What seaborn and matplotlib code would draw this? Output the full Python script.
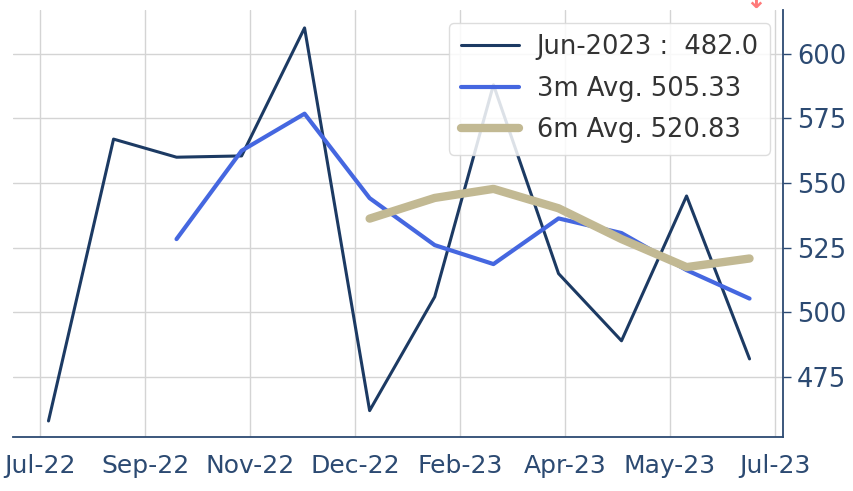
import numpy as np
import pandas as pd
import seaborn as sns
import matplotlib.pyplot as plt
import matplotlib.dates as mdates
from matplotlib.ticker import MultipleLocator

# monthly values (month-end dates)
months = pd.date_range('2022-07-31', periods=12, freq='ME')
values = [458, 567, 560, 560.5, 610, 462, 506, 588, 515, 489, 545, 482]
avg_3m = [np.nan, np.nan, 528.33, 562.5, 576.83, 544.17, 526.0, 518.67, 536.33, 530.67, 516.33, 505.33]
avg_6m = [np.nan] * 5 + [536.25, 544.25, 547.75, 540.25, 528.33, 517.5, 520.83]

labels = ['Jun-2023 :  482.0', '3m Avg. 505.33', '6m Avg. 520.83']

df = pd.DataFrame({'date': months, 'value': values, 'avg3': avg_3m, 'avg6': avg_6m})

navy = '#1c3a63'
tick_col = '#2c4a72'

sns.set_style('whitegrid')
plt.rcParams['font.family'] = ['DejaVu Sans']

fig = plt.figure(figsize=(8.54, 4.91), dpi=100)
ax = fig.add_axes([0.015, 0.110, 0.902, 0.870])

sns.lineplot(data=df, x='date', y='value', color=navy, linewidth=2.2, label=labels[0], ax=ax)
sns.lineplot(data=df, x='date', y='avg3', color='#4567e0', linewidth=3.0, label=labels[1], ax=ax)
sns.lineplot(data=df, x='date', y='avg6', color='#c2b993', linewidth=6.0, label=labels[2], ax=ax)

ax.set_xlim(19187, 19554)
ax.set_ylim(451.8, 617)
ax.xaxis.set_major_locator(MultipleLocator(50))
ax.xaxis.set_major_formatter(mdates.DateFormatter('%b-%y'))
ax.yaxis.set_major_locator(MultipleLocator(25))
ax.yaxis.tick_right()
ax.set_xlabel('')
ax.set_ylabel('')

ax.grid(True, color='#d4d4d4', linewidth=1.0)
for s in ['left', 'top']:
    ax.spines[s].set_visible(False)
for s in ['right', 'bottom']:
    ax.spines[s].set_visible(True)
    ax.spines[s].set_color(tick_col)
    ax.spines[s].set_linewidth(1.3)

ax.tick_params(axis='x', length=0, pad=12, labelsize=18, labelcolor=tick_col)
ax.tick_params(axis='y', right=True, length=6, width=1, color=tick_col, pad=4,
               labelsize=18.5, labelcolor=tick_col)

leg = ax.legend(loc='upper right', fontsize=18.5, frameon=True, framealpha=0.85,
                edgecolor='#d8d8d8', borderpad=0.45, handlelength=2.25,
                handletextpad=0.7, labelspacing=0.6)
for t in leg.get_texts():
    t.set_color('#333333')

fig.text(0.885, 0.998, '\u2193', color='#ff7a7a', fontsize=18, fontweight='bold',
         ha='center', va='center')

fig.savefig('out.png', dpi=100)
